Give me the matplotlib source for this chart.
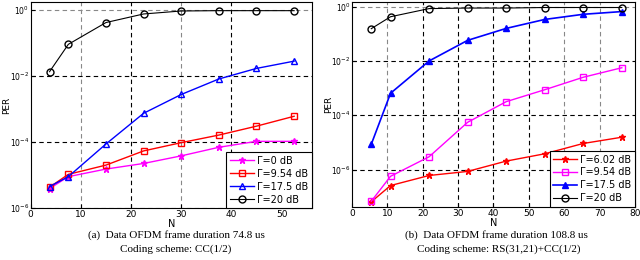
import matplotlib
matplotlib.use("Agg")
import matplotlib.pyplot as plt

# (a) CC(1/2), frame 74.8 us
n_a = [3.75, 7.5, 15, 22.5, 30, 37.5, 45, 52.5]
per_a_0 = [10**-5.41, 10**-5.05, 10**-4.82, 10**-4.65, 10**-4.42, 10**-4.16, 10**-3.98, 10**-3.98]
per_a_954 = [10**-5.37, 10**-4.98, 10**-4.70, 10**-4.27, 10**-4.02, 10**-3.79, 10**-3.52, 10**-3.22]
per_a_175 = [10**-5.35, 10**-5.05, 10**-4.06, 10**-3.13, 10**-2.56, 10**-2.09, 10**-1.77, 10**-1.55]
per_a_20 = [10**-1.87, 10**-1.04, 10**-0.38, 10**-0.12, 10**-0.03, 10**-0.02, 10**-0.02, 10**-0.02]

# (b) RS(31,21)+CC(1/2), frame 108.8 us
n_b = [5.45, 10.9, 21.8, 32.7, 43.6, 54.5, 65.4, 76.3]
per_b_602 = [10**-7.19, 10**-6.59, 10**-6.22, 10**-6.07, 10**-5.69, 10**-5.42, 10**-5.04, 10**-4.81]
per_b_954 = [10**-7.17, 10**-6.25, 10**-5.53, 10**-4.26, 10**-3.50, 10**-3.06, 10**-2.60, 10**-2.25]
per_b_175 = [10**-5.07, 10**-3.19, 10**-2.00, 10**-1.24, 10**-0.80, 10**-0.47, 10**-0.28, 10**-0.18]
per_b_20 = [10**-0.81, 10**-0.37, 10**-0.07, 10**-0.05, 10**-0.05, 10**-0.03, 10**-0.03, 10**-0.03]

plt.rcParams["font.family"] = "DejaVu Sans"
plt.rcParams["font.size"] = 6.5

fig = plt.figure(figsize=(6.4, 2.6), dpi=100)
ax1 = fig.add_axes([0.048, 0.2, 0.439, 0.792])
ax2 = fig.add_axes([0.55, 0.205, 0.442, 0.787])


def style(ax, xlim, ylim, xticks, vdark, hdark):
    ax.set_yscale("log")
    ax.set_xlim(*xlim)
    ax.set_ylim(*ylim)
    ax.set_xticks(xticks)
    ax.set_yticks([1e0, 1e-2, 1e-4, 1e-6])
    ax.yaxis.set_minor_locator(matplotlib.ticker.NullLocator())
    ax.tick_params(direction="in", length=3, pad=1.5, labelsize=6.5)
    ax.tick_params(axis="y", labelsize=5.5, pad=1)
    for x in xticks[1:-1]:
        ax.axvline(x, color="black" if x in vdark else "#888888",
                   ls=(0, (4, 3)), lw=0.8, zorder=0)
    for y in [1e0, 1e-2, 1e-4, 1e-6]:
        ax.axhline(y, color="black" if y in hdark else "#888888",
                   ls=(0, (4, 3)), lw=0.8, zorder=0)
    ax.set_xlabel("N", labelpad=0, fontsize=7)
    ax.set_ylabel("PER", fontsize=6.5)
    ax.yaxis.set_label_coords(-0.068, 0.5)


ax1.plot(n_a, per_a_0, color="magenta", marker="*", ms=5, lw=1, label="Γ=0 dB")
ax1.plot(n_a, per_a_954, color="red", marker="s", ms=4, mfc="none", lw=1, label="Γ=9.54 dB")
ax1.plot(n_a, per_a_175, color="blue", marker="^", ms=5, mfc="none", lw=1, label="Γ=17.5 dB")
ax1.plot(n_a, per_a_20, color="black", marker="o", ms=5, mfc="none", lw=0.8, label="Γ=20 dB")
style(ax1, (0, 56), (1e-6, 10**0.24), [0, 10, 20, 30, 40, 50], [20, 40], [1e-2, 1e-4])

ax2.plot(n_b, per_b_602, color="red", marker="*", ms=5, lw=1, label="Γ=6.02 dB")
ax2.plot(n_b, per_b_954, color="magenta", marker="s", ms=4, mfc="none", lw=1, label="Γ=9.54 dB")
ax2.plot(n_b, per_b_175, color="blue", marker="^", ms=5, lw=1.2, label="Γ=17.5 dB")
ax2.plot(n_b, per_b_20, color="black", marker="o", ms=5, mfc="none", lw=0.8, label="Γ=20 dB")
style(ax2, (0, 80), (10**-7.37, 10**0.17), [0, 10, 20, 30, 40, 50, 60, 70, 80],
      [20, 30, 40, 50], [1e-2, 1e-4, 1e-6])

for ax in (ax1, ax2):
    leg = ax.legend(loc="lower right", fontsize=7, frameon=True, fancybox=False,
                    borderaxespad=0, handlelength=2.5, handletextpad=0.3,
                    labelspacing=0.3, borderpad=0.35)
    leg.get_frame().set_edgecolor("black")
    leg.get_frame().set_linewidth(0.8)
    leg.get_frame().set_alpha(1)

serif = "Liberation Serif"
fig.text(0.275, 0.085, "(a)  Data OFDM frame duration 74.8 us", ha="center",
         fontsize=8, family=serif)
fig.text(0.275, 0.03, "Coding scheme: CC(1/2)", ha="center", fontsize=8, family=serif)
fig.text(0.775, 0.085, "(b)  Data OFDM frame duration 108.8 us", ha="center",
         fontsize=8, family=serif)
fig.text(0.78, 0.03, "Coding scheme: RS(31,21)+CC(1/2)", ha="center", fontsize=8, family=serif)

fig.savefig("out.png", dpi=100)
